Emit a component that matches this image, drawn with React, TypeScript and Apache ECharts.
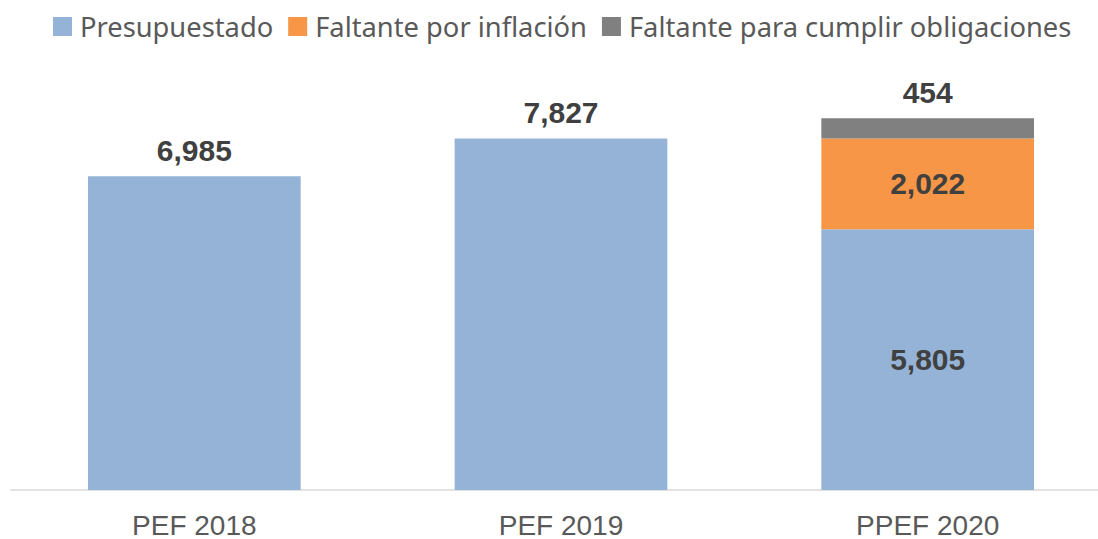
import React, { useEffect, useRef } from "react";
import * as echarts from "echarts";

const categories = ["PEF 2018", "PEF 2019", "PPEF 2020"];
const presupuestado = [6985, 7827, 5805];
const faltanteInflacion = [null, null, 2022];
const faltanteObligaciones = [null, null, 454];
const seriesNames = ["Presupuestado", "Faltante por inflación", "Faltante para cumplir obligaciones"];

const valueLabel = {
  show: true,
  color: "#404040",
  fontFamily: "Liberation Sans, Arial, sans-serif",
  fontWeight: "bold" as const,
  fontSize: 30,
  formatter: (p: any) => Number(p.value).toLocaleString("en-US"),
};

export default function App() {
  const ref = useRef<HTMLDivElement>(null);
  useEffect(() => {
    document.body.style.margin = "0";
    document.body.style.overflow = "hidden";
    const chart = echarts.init(ref.current!, undefined, { renderer: "svg" });
    chart.setOption({
      animation: false,
      backgroundColor: "#ffffff",
      legend: {
        top: 13,
        left: 53,
        padding: 0,
        itemWidth: 19,
        itemHeight: 19,
        itemGap: 15,
        icon: "rect",
        textStyle: {
          color: "#595959",
          fontSize: 27.3,
          fontFamily: "Noto Sans, sans-serif",
          padding: [0, 0, 0, 3],
        },
        data: seriesNames,
      },
      grid: { left: 11, right: 0, top: 41, bottom: 45, containLabel: false },
      xAxis: {
        type: "category",
        data: categories,
        axisLine: { lineStyle: { color: "#D9D9D9", width: 1.5 } },
        axisTick: { show: false },
        axisLabel: {
          color: "#595959",
          fontSize: 28,
          fontFamily: "Liberation Sans, Arial, sans-serif",
          margin: 21,
        },
      },
      yAxis: {
        type: "value",
        min: 0,
        max: 10000,
        show: false,
        splitLine: { show: false },
      },
      series: [
        {
          name: seriesNames[0],
          type: "bar",
          stack: "total",
          barWidth: "58%",
          itemStyle: { color: "#95B3D7" },
          data: presupuestado.map((v, i) => ({
            value: v,
            label: {
              ...valueLabel,
              position: i === 2 ? "inside" : "top",
              distance: 11,
            },
          })),
        },
        {
          name: seriesNames[1],
          type: "bar",
          stack: "total",
          barWidth: "58%",
          itemStyle: { color: "#F79646" },
          label: { ...valueLabel, position: "inside" },
          data: faltanteInflacion,
        },
        {
          name: seriesNames[2],
          type: "bar",
          stack: "total",
          barWidth: "58%",
          itemStyle: { color: "#808080" },
          label: { ...valueLabel, position: "top", distance: 11 },
          data: faltanteObligaciones,
        },
      ],
    });
    return () => chart.dispose();
  }, []);
  return (
    <div style={{ width: 1098, height: 539, overflow: "hidden", position: "relative" }}>
      <div ref={ref} style={{ width: 1111, height: 539 }} />
    </div>
  );
}
